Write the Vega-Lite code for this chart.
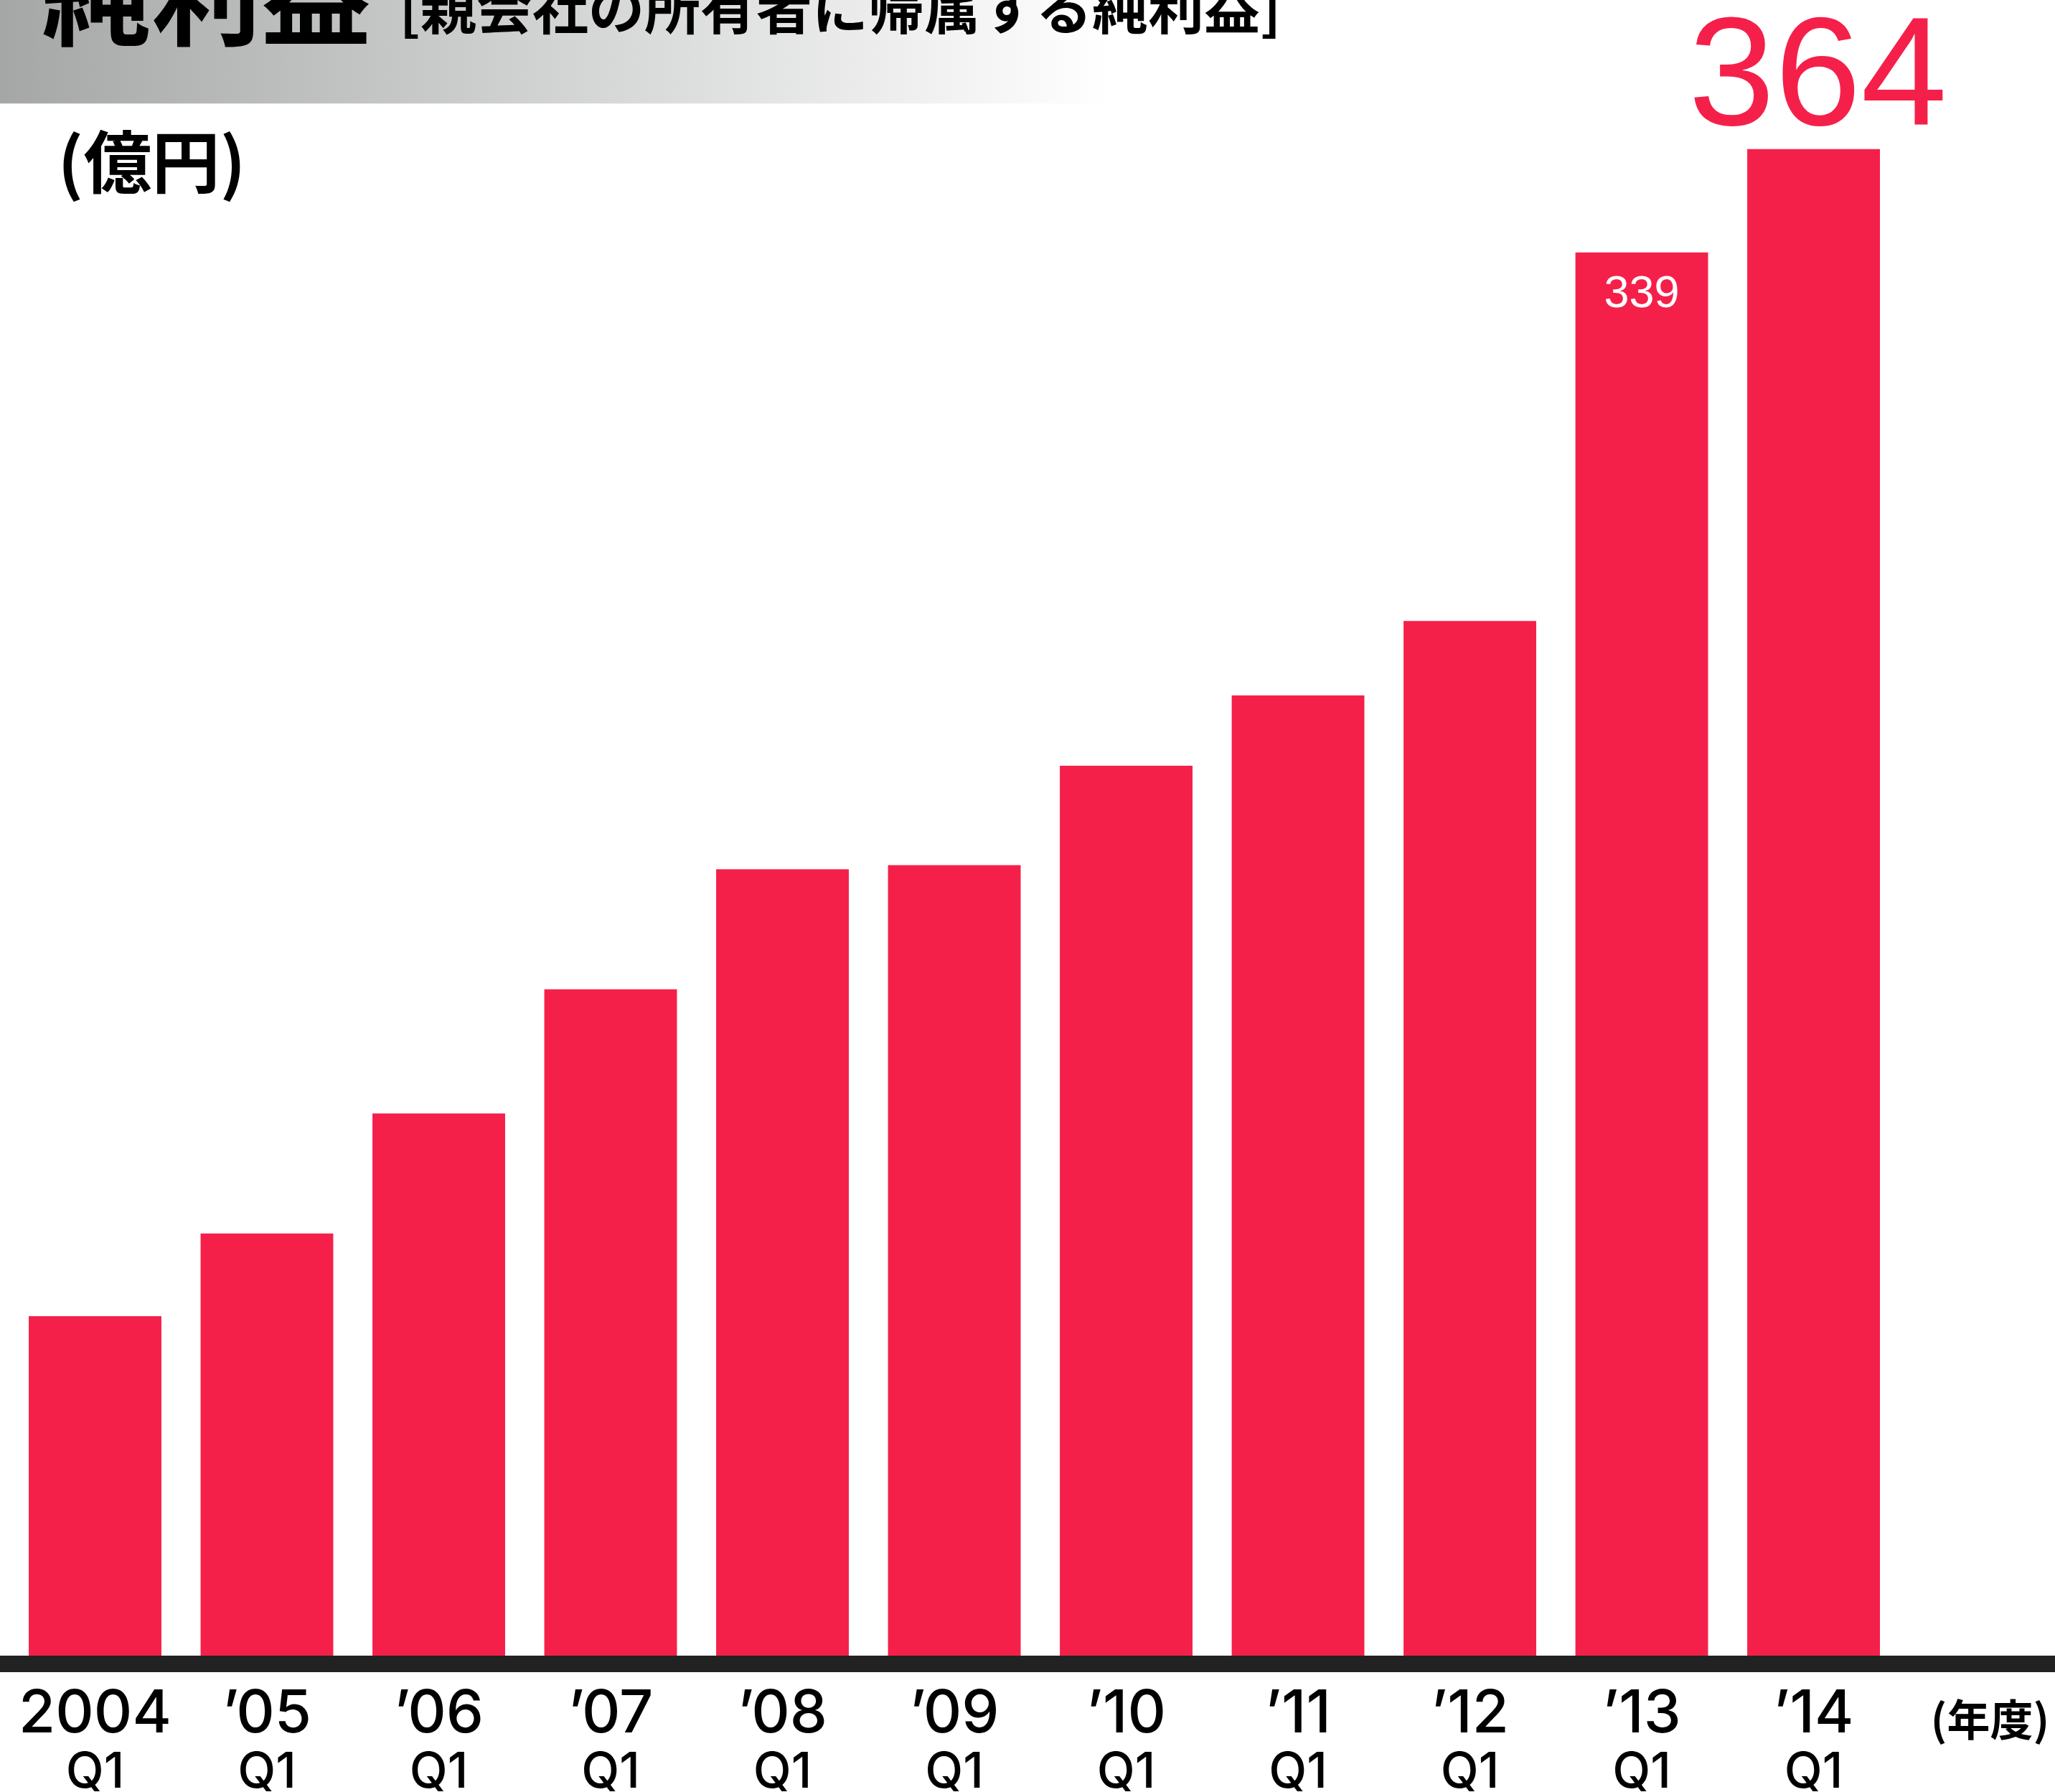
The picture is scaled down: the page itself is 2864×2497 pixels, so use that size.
{
  "$schema": "https://vega.github.io/schema/vega-lite/v6.json",
  "autosize": {"type": "none"},
  "padding": {"left": 0, "top": 0, "right": 0, "bottom": 190},
  "width": 2864,
  "height": 2307,
  "background": "#ffffff",
  "config": {"view": {"stroke": null}},
  "title": {
    "text": "純利益",
    "anchor": "start",
    "frame": "group",
    "orient": "top",
    "offset": -106,
    "dx": 58,
    "baseline": "top",
    "font": "Noto Sans CJK JP",
    "fontSize": 153,
    "fontWeight": "bold",
    "color": "#000000"
  },
  "data": {
    "values": [
      {"year": "2004", "value": 82},
      {"year": "’05", "value": 102},
      {"year": "’06", "value": 131},
      {"year": "’07", "value": 161},
      {"year": "’08", "value": 190},
      {"year": "’09", "value": 191},
      {"year": "’10", "value": 215},
      {"year": "’11", "value": 232},
      {"year": "’12", "value": 250},
      {"year": "’13", "value": 339},
      {"year": "’14", "value": 364}
    ]
  },
  "resolve": {"axis": {"x": "independent"}},
  "layer": [
    {
      "data": {"values": [{}]},
      "mark": {
        "type": "rect",
        "fill": {
          "gradient": "linear",
          "x1": 0, "y1": 0, "x2": 1, "y2": 0,
          "stops": [
            {"offset": 0, "color": "#a5a7a7"},
            {"offset": 0.54, "color": "#ffffff"},
            {"offset": 1, "color": "#ffffff"}
          ]
        }
      },
      "encoding": {
        "y": {"datum": 400, "type": "quantitative"},
        "y2": {"datum": 375}
      }
    },
    {
      "mark": {"type": "bar", "color": "#f5204a"},
      "encoding": {
        "x": {
          "field": "year",
          "type": "nominal",
          "sort": null,
          "scale": {"type": "band", "paddingInner": 0.228, "paddingOuter": 0.593, "align": 0.141},
          "axis": {
            "orient": "bottom",
            "labelAngle": 0,
            "labelLimit": 600,
            "ticks": false,
            "tickSize": 0,
            "domain": false,
            "grid": false,
            "labelFont": "Inter",
            "labelFontWeight": 500,
            "labelFontSize": 83,
            "labelColor": "#000000",
            "labelBaseline": "alphabetic",
            "labelPadding": 106,
            "title": "(年度)",
            "titleFont": "Noto Sans CJK JP",
            "titleFontSize": 60,
            "titleFontWeight": "bold",
            "titleColor": "#000000",
            "titleAngle": 0,
            "titleAlign": "center",
            "titleBaseline": "middle",
            "titleX": 2773,
            "titleY": 93
          }
        },
        "y": {
          "field": "value",
          "type": "quantitative",
          "scale": {"domain": [0, 400], "nice": false, "zero": true},
          "axis": {
            "title": "(億円)",
            "labels": false,
            "ticks": false,
            "domain": false,
            "grid": false,
            "titleFont": "Noto Sans CJK JP",
            "titleFontSize": 95,
            "titleFontWeight": "bold",
            "titleColor": "#000000",
            "titleAngle": 0,
            "titleAlign": "left",
            "titleBaseline": "alphabetic",
            "titleX": 80,
            "titleY": 261
          }
        }
      }
    },
    {
      "data": {"values": [{}]},
      "mark": {"type": "rule", "color": "#222222", "strokeWidth": 23, "yOffset": 11.5},
      "encoding": {
        "y": {"datum": 0, "type": "quantitative"}
      }
    },
    {
      "transform": [{"filter": "datum.year === '’13'"}],
      "mark": {"type": "text", "color": "#ffffff", "font": "Liberation Sans", "fontSize": 63, "baseline": "alphabetic", "align": "center", "dy": 76},
      "encoding": {
        "x": {
          "field": "year",
          "type": "nominal",
          "sort": null,
          "axis": {
            "orient": "bottom",
            "labelExpr": "'Q1'",
            "labelAngle": 0,
            "labelLimit": 600,
            "ticks": false,
            "tickSize": 0,
            "domain": false,
            "grid": false,
            "labelFont": "Inter",
            "labelFontWeight": 500,
            "labelFontSize": 69,
            "labelColor": "#000000",
            "labelBaseline": "alphabetic",
            "labelPadding": 183,
            "title": null
          }
        },
        "y": {"field": "value", "type": "quantitative"},
        "text": {"field": "value", "type": "quantitative"}
      }
    },
    {
      "transform": [{"filter": "datum.year === '’14'"}],
      "mark": {"type": "text", "color": "#f5204a", "font": "Liberation Sans", "fontSize": 216, "baseline": "alphabetic", "align": "center", "dy": -34, "dx": 6},
      "encoding": {
        "x": {
          "field": "year",
          "type": "nominal",
          "sort": null,
          "axis": {
            "orient": "top",
            "zindex": 2,
            "labels": false,
            "ticks": false,
            "tickSize": 0,
            "domain": false,
            "grid": false,
            "title": "[親会社の所有者に帰属する純利益]",
            "titleFont": "Noto Sans CJK JP",
            "titleFontSize": 78,
            "titleFontWeight": "bold",
            "titleColor": "#000000",
            "titleAngle": 0,
            "titleAlign": "left",
            "titleBaseline": "alphabetic",
            "titleX": 556,
            "titleY": 40
          }
        },
        "y": {"field": "value", "type": "quantitative"},
        "text": {"field": "value", "type": "quantitative"}
      }
    }
  ]
}
